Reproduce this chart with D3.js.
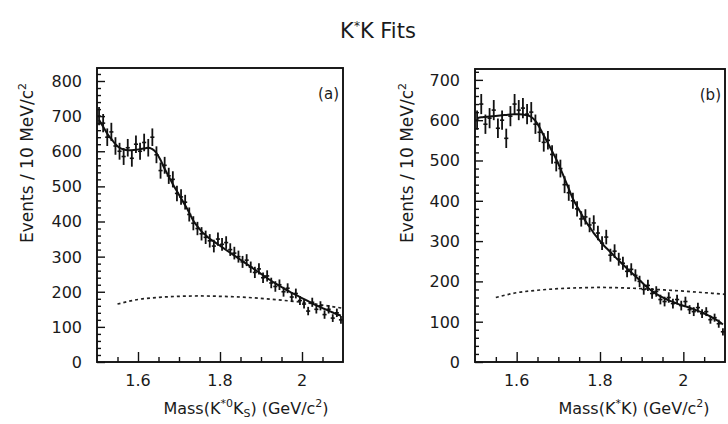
<!DOCTYPE html>
<html><head><meta charset="utf-8">
<script src="https://cdn.jsdelivr.net/npm/d3@7"></script>
<style>body{margin:0;background:#fff}svg{display:block}text{font-family:"DejaVu Sans",sans-serif;fill:#1a1a1a}</style>
</head><body><svg id="c" width="728" height="424"></svg>
<script>
const massBins=[1.505,1.515,1.525,1.535,1.545,1.555,1.565,1.575,1.585,1.595,1.605,1.615,1.625,1.635,1.645,1.655,1.665,1.675,1.685,1.695,1.705,1.715,1.725,1.735,1.745,1.755,1.765,1.775,1.785,1.795,1.805,1.815,1.825,1.835,1.845,1.855,1.865,1.875,1.885,1.895,1.905,1.915,1.925,1.935,1.945,1.955,1.965,1.975,1.985,1.995,2.005,2.015,2.025,2.035,2.045,2.055,2.065,2.075,2.085,2.095];
const countsA=[700,680,640,655,615,600,585,610,580,620,600,625,610,640,590,545,560,530,520,480,470,455,420,395,380,365,355,345,330,350,335,340,320,310,300,285,290,270,255,265,240,245,225,215,220,200,210,185,195,175,165,145,170,150,160,135,150,125,140,120];
const errA=[26,26,25,26,25,24,24,25,24,25,24,25,25,25,24,23,24,23,23,22,22,21,20,20,19,19,19,19,18,19,18,18,18,18,17,17,17,16,16,16,15,16,15,15,15,14,14,14,14,13,13,12,13,12,13,12,12,11,12,11];
const fitA=[690,670,650,635,620,610,605,603,603,604,606,608,610,606,595,575,550,528,506,486,466,446,425,402,386,372,361,351,343,335,327,319,311,303,295,287,279,271,263,255,247,239,231,224,217,210,203,197,191,185,179,173,167,161,156,151,146,141,136,132];
const countsB=[600,640,590,605,625,580,600,555,610,640,625,630,615,620,590,570,545,550,515,495,480,440,420,400,380,355,360,340,345,320,295,310,265,275,255,245,225,230,215,200,180,190,170,175,155,150,160,145,155,140,150,130,125,135,120,125,105,110,95,75];
const errB=[24,25,24,25,25,24,24,24,25,25,25,25,25,25,24,24,23,23,23,22,22,21,20,20,19,19,19,18,19,18,17,18,16,17,16,16,15,15,15,14,13,14,13,13,12,12,13,12,12,12,12,11,11,12,11,11,10,10,10,9];
const fitB=[605,607,608,609,610,611,612,613,614,615,615,614,612,608,598,582,562,543,523,503,480,455,430,405,386,368,350,335,320,307,294,283,273,262,252,242,232,222,213,203,193,184,176,169,163,158,153,149,145,141,138,135,131,127,123,118,113,107,101,93];
const bgMass=[1.55,1.6,1.65,1.7,1.75,1.8,1.85,1.9,1.95,2.0,2.05,2.1];
const bgA=[165,178,184,187,188,187,185,181,176,170,162,153];
const bgB=[160,172,178,182,184,185,184,182,179,176,172,168];
const yTicksA=[0,100,200,300,400,500,600,700,800];
const yTicksB=[0,100,200,300,400,500,600,700];
const xTickLabels=[1.6,1.8,2.0];

const svg=d3.select("#c");
svg.append("text").attr("x",378).attr("y",38).attr("text-anchor","middle").attr("font-size",21)
  .call(t=>{t.append("tspan").text("K");t.append("tspan").attr("dy",-8).attr("font-size",12).text("*");t.append("tspan").attr("dy",8).text("K Fits");});

function panel(o){
  const g=svg.append("g");
  const x=d3.scaleLinear().domain([1.5,2.1]).range([o.l,o.r]);
  const y=d3.scaleLinear().domain([0,o.ymax]).range([o.b,o.t]);
  const cid="clip"+o.id;
  svg.append("clipPath").attr("id",cid).append("rect").attr("x",o.l).attr("y",o.t).attr("width",o.r-o.l).attr("height",o.b-o.t);
  const dg=g.append("g").attr("clip-path",`url(#${cid})`);
  dg.append("path").datum(bgMass.map((m,i)=>[m,o.bg[i]]))
    .attr("d",d3.line().x(d=>x(d[0])).y(d=>y(d[1])).curve(d3.curveMonotoneX))
    .attr("fill","none").attr("stroke","#222").attr("stroke-width",1.7).attr("stroke-dasharray","3,3");
  dg.append("path").datum(massBins.map((m,i)=>[m,o.fit[i]]))
    .attr("d",d3.line().x(d=>x(d[0])).y(d=>y(d[1])).curve(d3.curveMonotoneX))
    .attr("fill","none").attr("stroke","#111").attr("stroke-width",2);
  const pts=dg.selectAll("g.pt").data(massBins.map((m,i)=>({m,v:o.counts[i],e:o.err[i]}))).join("g");
  pts.append("line").attr("x1",d=>x(d.m)).attr("x2",d=>x(d.m)).attr("y1",d=>y(d.v-d.e)).attr("y2",d=>y(d.v+d.e)).attr("stroke","#111").attr("stroke-width",1.8);
  pts.append("line").attr("x1",d=>x(d.m-0.005)).attr("x2",d=>x(d.m+0.005)).attr("y1",d=>y(d.v)).attr("y2",d=>y(d.v)).attr("stroke","#111").attr("stroke-width",1.6);
  g.append("rect").attr("x",o.l).attr("y",o.t).attr("width",o.r-o.l).attr("height",o.b-o.t).attr("fill","none").attr("stroke","#111").attr("stroke-width",1.9);
  const ya=d3.axisRight(y).tickValues(d3.range(0,o.ymax,20)).tickSize(4).tickFormat("");
  const yg=g.append("g").attr("transform",`translate(${o.l},0)`).call(ya);
  yg.select(".domain").remove();
  yg.selectAll(".tick line").attr("stroke","#111").attr("stroke-width",1.4).attr("x2",d=>d%100===0?8:4);
  g.selectAll("text.yl").data(o.yTicks).join("text").attr("class","yl").attr("x",o.l-15).attr("y",d=>y(d)+6)
    .attr("text-anchor","end").attr("font-size",16).text(d=>d);
  const xa=d3.axisTop(x).tickValues(d3.range(1.55,2.1,0.05)).tickSize(5).tickFormat("");
  const xg=g.append("g").attr("transform",`translate(0,${o.b})`).call(xa);
  xg.select(".domain").remove();
  xg.selectAll(".tick line").attr("stroke","#111").attr("stroke-width",1.4)
    .attr("y2",d=>Math.abs(Math.round(d*100)%20)===0?-10:-5);
  g.selectAll("text.xl").data(xTickLabels).join("text").attr("class","xl").attr("x",d=>x(d)).attr("y",o.b+24)
    .attr("text-anchor","middle").attr("font-size",16).text(d=>d===2?"2":d3.format(".1f")(d));
  g.append("text").attr("x",o.r-4).attr("y",o.t+31).attr("text-anchor","end").attr("font-size",15).text(o.label);
  const yt=g.append("text").attr("transform",`translate(${o.ytx},${o.yty}) rotate(-90)`).attr("text-anchor","middle").attr("font-size",17);
  yt.append("tspan").text("Events / 10 MeV/c");
  yt.append("tspan").attr("dy",-7).attr("font-size",11).text("2");
  const xt=g.append("text").attr("x",o.xtx).attr("y",414).attr("text-anchor","middle").attr("font-size",16);
  o.xtitle(xt);
}

panel({id:"a",l:97,r:343,t:68,b:362,ymax:837,counts:countsA,err:errA,fit:fitA,bg:bgA,yTicks:yTicksA,label:"(a)",ytx:33,yty:163,xtx:246,
  xtitle:t=>{t.append("tspan").text("Mass(K");t.append("tspan").attr("dy",-7).attr("font-size",11).text("*0");
    t.append("tspan").attr("dy",7).text("K");t.append("tspan").attr("dy",3).attr("font-size",11).text("S");
    t.append("tspan").attr("dy",-3).text(") (GeV/c");t.append("tspan").attr("dy",-7).attr("font-size",11).text("2");t.append("tspan").attr("dy",7).text(")");}});
panel({id:"b",l:475,r:725,t:69,b:362,ymax:727,counts:countsB,err:errB,fit:fitB,bg:bgB,yTicks:yTicksB,label:"(b)",ytx:413,yty:163,xtx:634,
  xtitle:t=>{t.append("tspan").text("Mass(K");t.append("tspan").attr("dy",-7).attr("font-size",11).text("*");
    t.append("tspan").attr("dy",7).text("K) (GeV/c");t.append("tspan").attr("dy",-7).attr("font-size",11).text("2");t.append("tspan").attr("dy",7).text(")");}});
</script></body></html>
